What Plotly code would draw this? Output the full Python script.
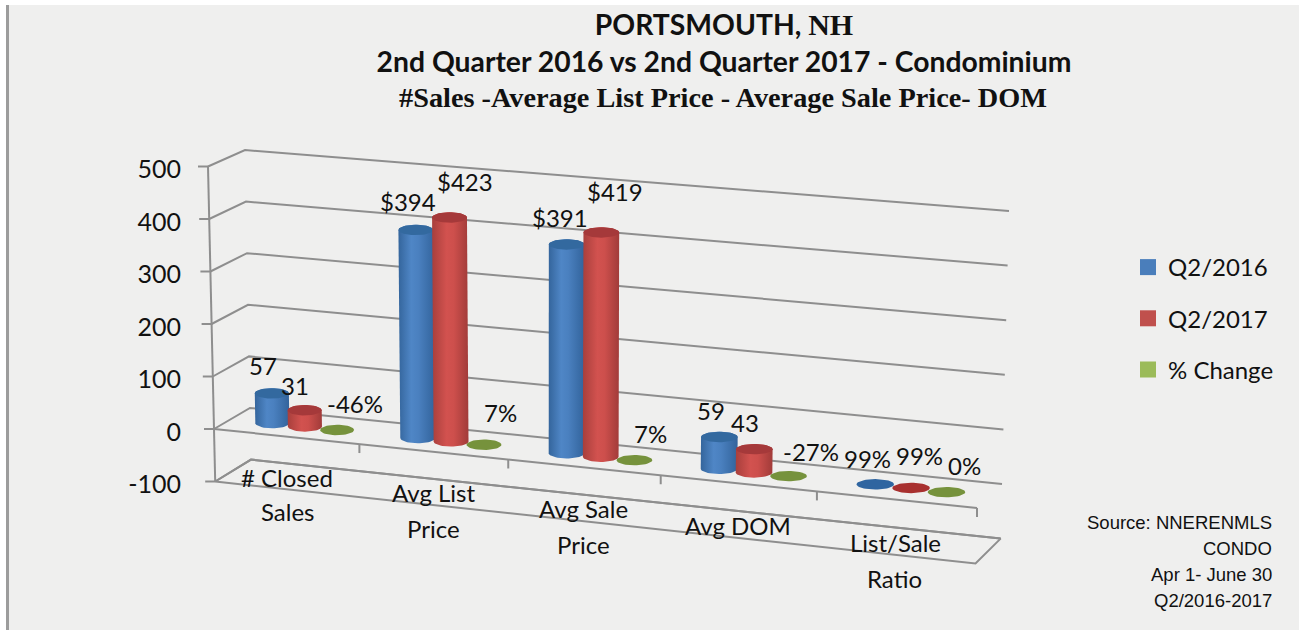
import numpy as np
import plotly.graph_objects as go

# ---------- data ----------
CATEGORIES = [["# Closed", "Sales"], ["Avg List", "Price"], ["Avg Sale", "Price"], ["Avg DOM"], ["List/Sale", "Ratio"]]
SERIES_NAMES = ["Q2/2016", "Q2/2017", "% Change"]
Q2_2016 = [57, 394, 391, 59, 0.99]
Q2_2017 = [31, 423, 419, 43, 0.99]
PCT_CHANGE = [-0.46, 0.07, 0.07, -0.27, 0.0]
LABELS_2016 = ["57", "$394", "$391", "59", "99%"]
LABELS_2017 = ["31", "$423", "$419", "43", "99%"]
LABELS_PCT = ["-46%", "7%", "7%", "-27%", "0%"]
Y_TICKS = [-100, 0, 100, 200, 300, 400, 500]
Y_TICK_LABELS = ["-100", "0", "100", "200", "300", "400", "500"]
TITLE_LINE1 = "PORTSMOUTH, "
TITLE_LINE1B = "NH"
TITLE_LINE2 = "2nd Quarter 2016 vs 2nd Quarter 2017 - Condominium"
TITLE_LINE3 = "#Sales -Average List Price - Average Sale Price- DOM"
SOURCE_LINES = ["Source: NNERENMLS", "CONDO", "Apr 1- June 30", "Q2/2016-2017"]

# ---------- styles / geometry ----------
W, H = 1299, 630
SANS = "Lato"
TXT = "#111111"
GRID = "#8e8e8e"
BG = "#efefee"
BODY = [
    [[0, "#34659c"], [0.35, "#4f86c6"], [0.55, "#4a80bf"], [1, "#32639b"]],
    [[0, "#a83f3c"], [0.4, "#d2524f"], [0.6, "#cd4f4c"], [1, "#a13b39"]],
    [[0, "#76923c"], [1, "#76923c"]],
]
TOP = ["#33699f", "#a5393a", "#76923c"]
DISC = ["#2f65a0", "#a8302f", "#76923c"]
LEGEND_COL = ["#4a7ebb", "#c0504d", "#9bbb59"]
OFFS = [0.287, 0.513, 0.735]  # bar centres inside a category
BAR_R = 0.118                 # bar half width, category units
ELL_RY = 5.2                  # ellipse half height, px
DEPTH = 0.48
PERSP = 0.062
# label nudges from bar top (px): per series, per category
NUDGE = [
    [(-8, -28), (-7, -28), (-6, -27), (-8, -26), (-7, -26)],
    [(-9, -25), (16, -36), (14, -41), (-9, -27), (9, -32)],
    [(18, -26), (17, -32), (16, -27), (23, -25), (18, -27)],
]

# axis scale: value 0 sits 429px down, 100 units = 52.5px; x in px-like units
PX_X0, PX_PER_CAT = 214.0, 152.6
PX_Y0, PX_PER_UNIT = 429.0, 0.525
AX_LEFT = 186
x_range = [(AX_LEFT - PX_X0) / PX_PER_CAT, (W - PX_X0) / PX_PER_CAT]
y_range = [(PX_Y0 - H) / PX_PER_UNIT, PX_Y0 / PX_PER_UNIT]


def fx(px):
    return (px - AX_LEFT) / (W - AX_LEFT)


def fy(py):
    return 1 - py / H


def lerp(a, b, t):
    return a + (b - a) * t


def project(cat, val, d):
    """Oblique 3D view: category, value, depth to the chart's 2D axes."""
    t = np.asarray(cat, float) / 5.0
    T = t / (1 + PERSP * (1 - t))
    bx = lerp(lerp(214, 977, T), lerp(250, 1002, T), d)
    by = lerp(lerp(429, 508, T), lerp(408, 484, T), d)
    lean = lerp(lerp(-1.2, 1.5, T), lerp(-1.0, 1.4, T), d)
    rise = lerp(lerp(52.5, 55.5, T), lerp(51.6, 54.6, T), d)
    px = bx + lean * (np.asarray(val, float) / 100.0)
    py = by - rise * (np.asarray(val, float) / 100.0)
    return (px - PX_X0) / PX_PER_CAT, (PX_Y0 - py) / PX_PER_UNIT


fig = go.Figure()


def add_line(xs, ys, color=GRID, width=2):
    fig.add_trace(go.Scatter(x=xs, y=ys, mode="lines", line=dict(color=color, width=width),
                             showlegend=False, hoverinfo="skip"))


# back wall and side wall gridlines
for v in Y_TICKS:
    xs, ys = zip(*[project(0, v, 0), project(0, v, 1), project(5, v, 1)])
    add_line(list(xs), list(ys))
    x0, y0 = project(0, v, 0)
    add_line([x0 - 10 / PX_PER_CAT, x0], [y0, y0])

# floor outline
a = project(0, -100, 0); b = project(5, -100, 0); c = project(5, -100, 1); e = project(0, -100, 1)
add_line([a[0], b[0], c[0], e[0], a[0]], [a[1], b[1], c[1], e[1], a[1]])
# vertical axis
p0 = project(0, 500, 0); p1 = project(0, -100, 0)
add_line([p0[0], p1[0]], [p0[1], p1[1]])
# front line at zero with category ticks
z0 = project(0, 0, 0); z1 = project(5, 0, 0)
add_line([z0[0], z1[0]], [z0[1], z1[1]])
for i in range(1, 6):
    tx, ty = project(i, 0, 0)
    add_line([tx, tx], [ty, ty - 9 / PX_PER_UNIT])

# cylinders
annots = []
all_values = [Q2_2016, Q2_2017, PCT_CHANGE]
all_labels = [LABELS_2016, LABELS_2017, LABELS_PCT]
theta = np.linspace(0, 2 * np.pi, 49)
for i in range(len(CATEGORIES)):
    for s, vals in enumerate(all_values):
        v = vals[i]
        cat = i + OFFS[s]
        bx, by = project(cat, 0, DEPTH)
        tx, ty = project(cat, v, DEPTH)
        rx = BAR_R * (project(i + 1, 0, DEPTH)[0] - project(i, 0, DEPTH)[0])
        ry = ELL_RY / PX_PER_UNIT
        cos, sin = np.cos(theta), np.sin(theta)
        if abs(v) >= 5:
            half = theta[:25]  # lower half of the ellipse
            xb = bx + rx * np.cos(half)
            yb = by - ry * np.sin(half)
            xt = tx + rx * np.cos(half[::-1])
            yt = ty + ry * np.sin(half[::-1])
            fig.add_trace(go.Scatter(
                x=np.r_[xb, xt, xb[0]], y=np.r_[yb, yt, yb[0]], mode="lines", fill="toself",
                line=dict(width=0), fillgradient=dict(type="horizontal", colorscale=BODY[s]),
                showlegend=False, hoverinfo="skip"))
            col = TOP[s]
        else:
            col = DISC[s]
        fig.add_trace(go.Scatter(
            x=tx + rx * cos, y=ty + ry * sin, mode="lines", fill="toself", fillcolor=col,
            line=dict(width=0, color=col), showlegend=False, hoverinfo="skip"))
        nx, ny = NUDGE[s][i]
        annots.append(dict(x=float(tx), y=float(ty), text=all_labels[s][i], showarrow=False,
                           xshift=nx - (OFFS[s] - [0.27, 0.5, 0.73][s]) * 40, yshift=-ny,
                           font=dict(family=SANS, size=24, color=TXT)))

# legend entries
for name, col in zip(SERIES_NAMES, LEGEND_COL):
    fig.add_trace(go.Scatter(x=[None], y=[None], mode="markers", name=name, legendgroup=name,
                             marker=dict(symbol="square", size=17, color=col)))

# category labels
for i, parts in enumerate(CATEGORIES):
    for k, part in enumerate(parts):
        lx, ly = project(i + 0.5, -77 - 66 * k, 0)
        annots.append(dict(x=float(lx), y=float(ly), text=part, showarrow=False,
                           font=dict(family=SANS, size=24, color=TXT)))

# source note
for k, line in enumerate(SOURCE_LINES):
    annots.append(dict(xref="paper", yref="paper", x=fx(1274), y=fy(522 + 26 * k),
                       xanchor="right", yanchor="middle", text=line, showarrow=False,
                       font=dict(family="Liberation Sans", size=18.5, color=TXT)))

# third title line
annots.append(dict(xref="paper", yref="paper", x=fx(723), y=fy(97), xanchor="center", yanchor="middle",
                   text=f"<b>{TITLE_LINE3}</b>", showarrow=False,
                   font=dict(family="Liberation Serif", size=28.3, color=TXT)))

title_text = (
    f"<b>{TITLE_LINE1}<span style='font-family:Liberation Serif;font-size:30px'>{TITLE_LINE1B}</span></b><br>"
    f"<b>{TITLE_LINE2}</b>"
)

fig.update_layout(
    width=W, height=H, autosize=False,
    margin=dict(l=AX_LEFT, r=0, t=0, b=0),
    paper_bgcolor="white", plot_bgcolor="rgba(0,0,0,0)",
    font=dict(family=SANS, color=TXT),
    title=dict(text=title_text, x=724 / W, xanchor="center", y=1 - 35 / H, yanchor="top",
               font=dict(family=SANS, size=28.3, color=TXT)),
    xaxis=dict(range=x_range, visible=False, fixedrange=True),
    yaxis=dict(range=y_range, tickmode="array", tickvals=Y_TICKS, ticktext=Y_TICK_LABELS, ticks="",
               showgrid=False, zeroline=False, showline=False,
               tickfont=dict(family=SANS, size=25, color=TXT), ticklabelstandoff=4,
               ticklabelshift=3, fixedrange=True),
    legend=dict(x=fx(1128), y=fy(245), xanchor="left", yanchor="top", bgcolor="rgba(0,0,0,0)",
                font=dict(family=SANS, size=24, color=TXT), tracegroupgap=17, itemwidth=30),
    annotations=annots,
    shapes=[
        dict(type="rect", xref="paper", yref="paper", layer="below", x0=fx(9), x1=fx(W),
             y0=0, y1=fy(5), fillcolor=BG, line=dict(width=0)),
        dict(type="rect", xref="paper", yref="paper", layer="below", x0=fx(6), x1=fx(9),
             y0=0, y1=fy(5), fillcolor="#9c9c9c", line=dict(width=0)),
    ],
)
fig.write_html("out.html", config={"displayModeBar": False},
               post_script="document.body.style.margin='0';document.body.style.overflow='hidden';")
